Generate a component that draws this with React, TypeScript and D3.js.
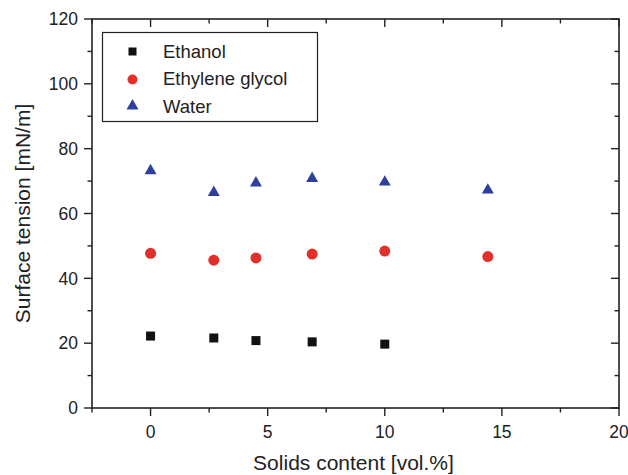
import * as d3 from "d3";
import React from "react";

// x positions (vol.%) and surface tension values [mN/m]
const ethanolX = [0, 2.7, 4.5, 6.9, 10];
const ethanolY = [22.2, 21.6, 20.8, 20.4, 19.7];
const glycolX = [0, 2.7, 4.5, 6.9, 10, 14.4];
const glycolY = [47.7, 45.6, 46.3, 47.5, 48.4, 46.7];
const waterX = [0, 2.7, 4.5, 6.9, 10, 14.4];
const waterY = [73.2, 66.5, 69.4, 70.8, 69.7, 67.2];

const xMajor = [0, 5, 10, 15, 20];
const xMinor = [-2.5, 2.5, 7.5, 12.5, 17.5];
const yMajor = [0, 20, 40, 60, 80, 100, 120];
const yMinor = [10, 30, 50, 70, 90, 110];

const legendLabels = ["Ethanol", "Ethylene glycol", "Water"];

const W = 628;
const H = 475;
const margin = { left: 92, right: 9, top: 19, bottom: 67 };
const font = "'Liberation Sans', Arial, Helvetica, sans-serif";
const axisColor = "#222";
const red = "#e1302a";
const blue = "#2f3f9f";
const black = "#111";

const Square = ({ x, y, s = 9 }: { x: number; y: number; s?: number }) => (
  <rect x={x - s / 2} y={y - s / 2} width={s} height={s} fill={black} />
);
const Circle = ({ x, y, r = 5.5 }: { x: number; y: number; r?: number }) => (
  <circle cx={x} cy={y} r={r} fill={red} />
);
const Tri = ({ x, y }: { x: number; y: number }) => {
  const sym = d3.symbol(d3.symbolTriangle, 62)();
  return <path d={sym || ""} transform={`translate(${x},${y})`} fill={blue} />;
};

export default function App() {
  const x = d3.scaleLinear().domain([-2.5, 20]).range([margin.left, W - margin.right]);
  const y = d3.scaleLinear().domain([0, 120]).range([H - margin.bottom, margin.top]);
  const [x0, x1] = x.range();
  const [y0, y1] = y.range();

  const major = 8;
  const minor = 4.5;

  return (
    <svg
      width={W}
      height={H}
      style={{ position: "absolute", left: 0, top: 0, background: "#fff" }}
      fontFamily={font}
    >
      {/* frame */}
      <rect x={x0} y={y1} width={x1 - x0} height={y0 - y1} fill="none" stroke={axisColor} strokeWidth={1.6} />

      {/* bottom ticks outward, top ticks inward */}
      {xMajor.map((t) => (
        <g key={"xm" + t} stroke={axisColor} strokeWidth={1.4}>
          <line x1={x(t)} x2={x(t)} y1={y0} y2={y0 + major} />
          <line x1={x(t)} x2={x(t)} y1={y1} y2={y1 + major} />
        </g>
      ))}
      {xMinor.map((t) => (
        <g key={"xn" + t} stroke={axisColor} strokeWidth={1.4}>
          <line x1={x(t)} x2={x(t)} y1={y0} y2={y0 + minor} />
          <line x1={x(t)} x2={x(t)} y1={y1} y2={y1 + minor} />
        </g>
      ))}
      {xMajor.map((t) => (
        <text key={"xl" + t} x={x(t)} y={437.5} fontSize={17.5} textAnchor="middle" fill="#222">
          {t}
        </text>
      ))}

      {/* left ticks outward, right ticks inward */}
      {yMajor.map((t) => (
        <g key={"ym" + t} stroke={axisColor} strokeWidth={1.4}>
          <line x1={x0 - major} x2={x0} y1={y(t)} y2={y(t)} />
          <line x1={x1 - major} x2={x1} y1={y(t)} y2={y(t)} />
        </g>
      ))}
      {yMinor.map((t) => (
        <g key={"yn" + t} stroke={axisColor} strokeWidth={1.4}>
          <line x1={x0 - minor} x2={x0} y1={y(t)} y2={y(t)} />
          <line x1={x1 - minor} x2={x1} y1={y(t)} y2={y(t)} />
        </g>
      ))}
      {yMajor.map((t) => (
        <text key={"yl" + t} x={x0 - 14} y={y(t)} dy="0.36em" fontSize={17.5} textAnchor="end" fill="#222">
          {t}
        </text>
      ))}

      {/* axis titles */}
      <text x={(x0 + x1) / 2 - 2} y={470} fontSize={21} textAnchor="middle" fill="#222">
        Solids content [vol.%]
      </text>
      <text
        transform={`translate(30, ${(y0 + y1) / 2}) rotate(-90)`}
        fontSize={21}
        textAnchor="middle"
        fill="#222"
      >
        Surface tension [mN/m]
      </text>

      {/* data */}
      {ethanolX.map((v, i) => (
        <Square key={"e" + i} x={x(v)} y={y(ethanolY[i])} />
      ))}
      {glycolX.map((v, i) => (
        <Circle key={"g" + i} x={x(v)} y={y(glycolY[i])} />
      ))}
      {waterX.map((v, i) => (
        <Tri key={"w" + i} x={x(v)} y={y(waterY[i])} />
      ))}

      {/* legend */}
      <rect x={102.5} y={32.5} width={215} height={89} fill="#fff" stroke={axisColor} strokeWidth={1.2} />
      <Square x={132.5} y={51.5} s={8} />
      <Circle x={132.5} y={79.5} r={5} />
      <Tri x={132.5} y={106} />
      {legendLabels.map((l, i) => (
        <text key={l} x={163} y={51.5 + i * 27.2} dy="0.36em" fontSize={18.5} fill="#222">
          {l}
        </text>
      ))}
    </svg>
  );
}
